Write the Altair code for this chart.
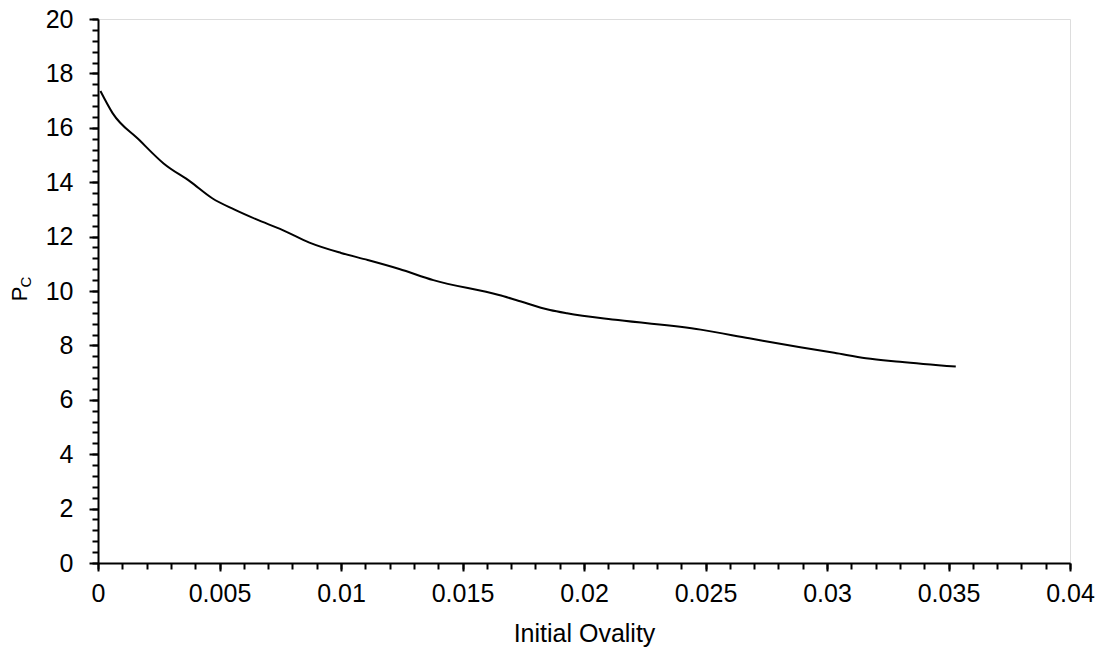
import altair as alt
import pandas as pd

ovality = [0.0001, 0.0006, 0.0017, 0.0027, 0.0038, 0.0047, 0.0056, 0.0065, 0.0076,
           0.0087, 0.0100, 0.0111, 0.0124, 0.0138, 0.0165, 0.0172, 0.0186, 0.0193,
           0.0214, 0.0248, 0.0268, 0.0289, 0.0303, 0.0316, 0.0330, 0.0353]
pc = [17.35, 16.54, 15.55, 14.69, 14.02, 13.41, 13.00, 12.64, 12.24,
      11.78, 11.40, 11.14, 10.81, 10.40, 9.85, 9.67, 9.30, 9.18,
      8.93, 8.58, 8.26, 7.93, 7.73, 7.53, 7.40, 7.22]

x_major = [0, 0.005, 0.01, 0.015, 0.02, 0.025, 0.03, 0.035, 0.04]
x_minor = [round(i * 0.001, 3) for i in range(41)]
y_major = [0, 2, 4, 6, 8, 10, 12, 14, 16, 18, 20]
y_minor = [round(i * 0.4, 1) for i in range(51)]

df = pd.DataFrame({"ovality": ovality, "pc": pc})

FONT = "Liberation Sans"
xs = alt.Scale(domain=[0, 0.04], nice=False, zero=False)
ys = alt.Scale(domain=[0, 20], nice=False, zero=False)

main = alt.Chart(df).mark_line(color="black", strokeWidth=2, interpolate="monotone").encode(
    x=alt.X("ovality:Q", scale=xs, axis=alt.Axis(
        orient="bottom", values=x_major, format="~g", title="Initial Ovality",
        grid=False, tickSize=8, tickWidth=2, tickColor="black", domainColor="black",
        domainWidth=2, labelFontSize=25, labelFont=FONT, labelColor="black",
        labelPadding=10, titleFont=FONT, titleFontSize=25, titleFontWeight="normal",
        titleColor="black", titlePadding=15, labelFlush=False)),
    y=alt.Y("pc:Q", scale=ys, axis=alt.Axis(
        orient="left", values=y_major, format="d", title=None,
        grid=False, tickSize=9, tickWidth=2, tickColor="black", domainColor="black",
        domainWidth=2, labelFontSize=25, labelFont=FONT, labelColor="black",
        labelPadding=16, labelFlush=False)),
)

minor = alt.Chart(df).mark_line(opacity=0).encode(
    x=alt.X("ovality:Q", scale=xs, axis=alt.Axis(
        orient="bottom", values=x_minor, labels=False, title=None, grid=False,
        tickSize=6, tickWidth=2, tickColor="black", domain=False)),
    y=alt.Y("pc:Q", scale=ys, axis=alt.Axis(
        orient="left", values=y_minor, labels=False, title=None, grid=False,
        tickSize=6, tickWidth=2, tickColor="black", domain=False)),
)

title_p = alt.Chart(pd.DataFrame({"t": ["P"]})).mark_text(
    font=FONT, fontSize=22, angle=270, color="black", align="center", baseline="middle"
).encode(x=alt.value(-78), y=alt.value(275), text="t:N")

title_c = alt.Chart(pd.DataFrame({"t": ["C"]})).mark_text(
    font=FONT, fontSize=15, angle=270, color="black", align="center", baseline="middle"
).encode(x=alt.value(-72), y=alt.value(263), text="t:N")

chart = alt.layer(main, minor, title_p, title_c).resolve_axis(
    x="independent", y="independent"
).properties(
    width=972, height=544,
    autosize=alt.AutoSizeParams(type="none"),
    padding={"left": 90, "top": 11, "right": 25, "bottom": 92},
).configure_view(stroke="black", strokeWidth=2).configure(background="white")

chart.save("out.html", embed_options={"renderer": "svg", "actions": False})
